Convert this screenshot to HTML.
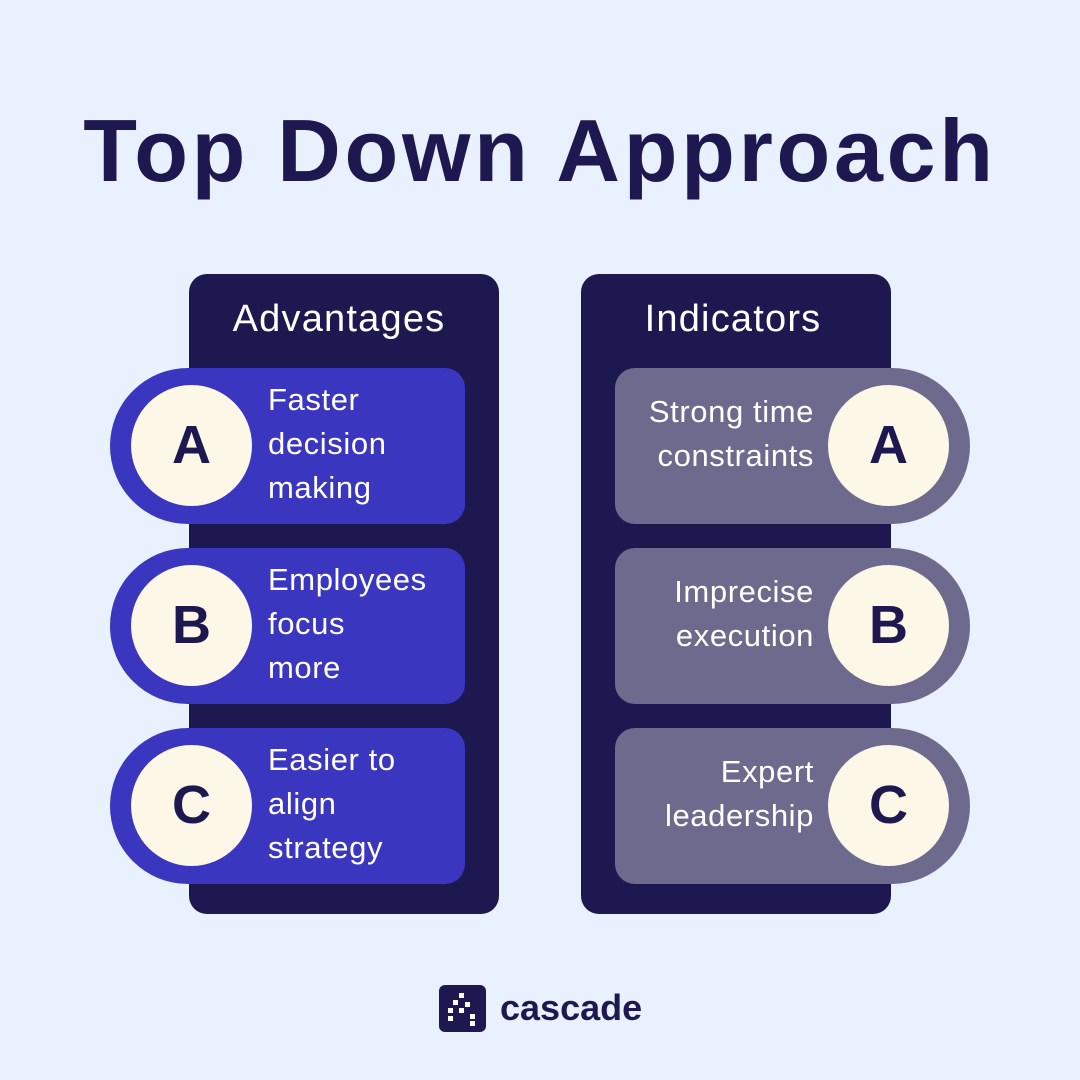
<!DOCTYPE html>
<html><head><style>
body{margin:0;width:1080px;height:1080px;background:#e9f1fe;position:relative;overflow:hidden;font-family:"Liberation Sans",sans-serif;}
.t{position:absolute;left:0;width:1080px;top:100px;text-align:center;font-size:88px;font-weight:bold;color:#1e1850;letter-spacing:3.7px;}
.panel{position:absolute;top:274px;width:310px;height:640px;background:#1e1850;border-radius:18px;}
.ph{position:absolute;width:310px;top:298px;text-align:center;color:#fff;font-size:38px;letter-spacing:1.2px;}
.card{position:absolute;width:355px;height:156px;}
.l{left:110px;background:#3a36bf;border-radius:78px 20px 20px 78px;}
.r{left:615px;background:#6e6a8e;border-radius:20px 78px 78px 20px;}
.c{position:absolute;top:17px;width:121px;height:121px;border-radius:50%;background:#fcf7e6;color:#1e1850;font-size:54px;font-weight:bold;text-align:center;line-height:121px;}
.l .c{left:21px}.r .c{left:213px}
.tx{position:absolute;color:#fff;font-size:31px;line-height:44px;letter-spacing:0.6px;white-space:nowrap;}
.l .tx{left:158px;top:10px}
.r .tx{right:156px;text-align:right;top:22px}
</style></head><body>
<div class="t">Top Down Approach</div>
<div class="panel" style="left:189px"></div>
<div class="panel" style="left:581px"></div>
<div class="ph" style="left:184px">Advantages</div>
<div class="ph" style="left:578px">Indicators</div>
<div class="card l" style="top:368px"><div class="c">A</div><div class="tx">Faster<br>decision<br>making</div></div>
<div class="card l" style="top:548px"><div class="c">B</div><div class="tx">Employees<br>focus<br>more</div></div>
<div class="card l" style="top:728px"><div class="c">C</div><div class="tx">Easier to<br>align<br>strategy</div></div>
<div class="card r" style="top:368px"><div class="c">A</div><div class="tx">Strong time<br>constraints</div></div>
<div class="card r" style="top:548px"><div class="c">B</div><div class="tx">Imprecise<br>execution</div></div>
<div class="card r" style="top:728px"><div class="c">C</div><div class="tx">Expert<br>leadership</div></div>
<div style="position:absolute;left:439px;top:985px;width:47px;height:47px;background:#1e1850;border-radius:6px">
<div style="position:absolute;left:20px;top:8px;width:5px;height:5px;background:#fff"></div>
<div style="position:absolute;left:14px;top:15px;width:5px;height:5px;background:#fff"></div>
<div style="position:absolute;left:26px;top:17px;width:5px;height:5px;background:#fff"></div>
<div style="position:absolute;left:9px;top:23px;width:5px;height:5px;background:#fff"></div>
<div style="position:absolute;left:20px;top:23px;width:5px;height:5px;background:#fff"></div>
<div style="position:absolute;left:9px;top:31px;width:5px;height:5px;background:#fff"></div>
<div style="position:absolute;left:31px;top:29px;width:5px;height:5px;background:#fff"></div>
<div style="position:absolute;left:31px;top:36px;width:5px;height:5px;background:#fff"></div>
</div>
<div style="position:absolute;left:500px;top:987px;font-size:36px;font-weight:bold;color:#1e1850">cascade</div>
</body></html>
